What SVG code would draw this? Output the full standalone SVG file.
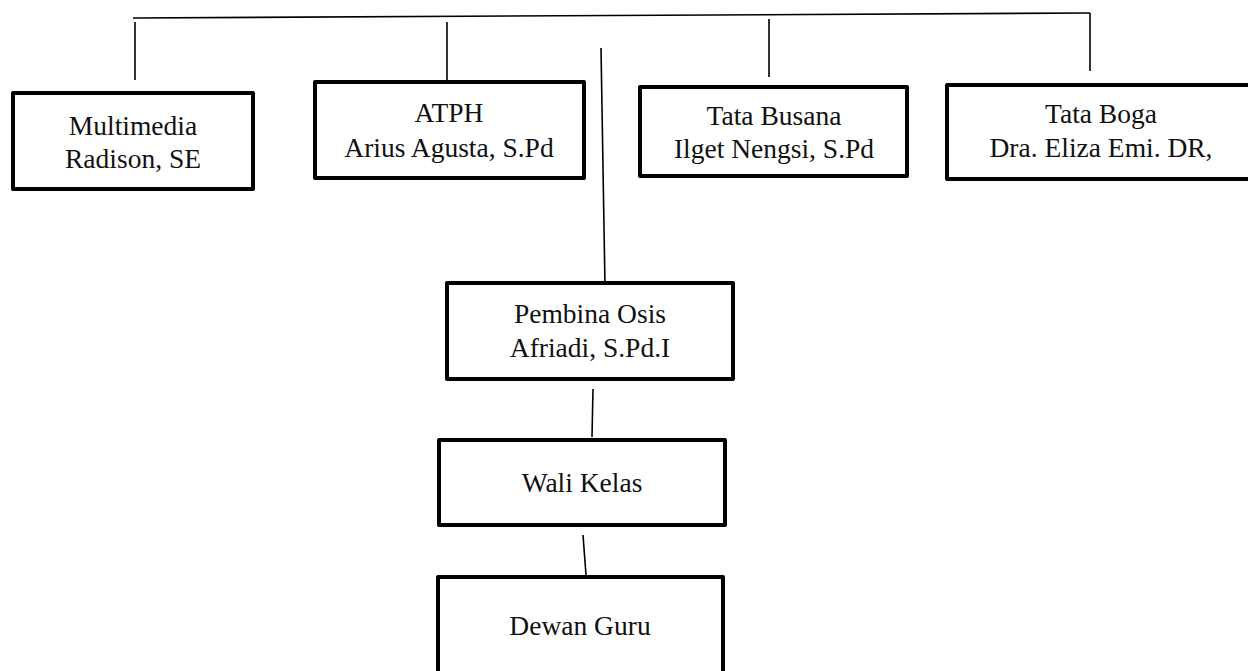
<svg xmlns="http://www.w3.org/2000/svg" width="1248" height="671" viewBox="0 0 1248 671">
<style>
.box{fill:#fff;stroke:#000;stroke-width:4;stroke-linejoin:round}
.ln{stroke:#000;stroke-width:1.6;fill:none}
text{font-family:"Liberation Serif","DejaVu Serif",serif;font-size:27.5px;fill:#111;text-anchor:middle}
</style>
<rect width="1248" height="671" fill="#fff"/>
<g id="connectors">
<line class="ln" x1="133" y1="18" x2="1090" y2="13"/>
<line class="ln" x1="135" y1="22" x2="135" y2="80"/>
<line class="ln" x1="447" y1="22" x2="447" y2="80"/>
<line class="ln" x1="769" y1="19" x2="769" y2="77"/>
<line class="ln" x1="1090" y1="13" x2="1090" y2="71"/>
<line class="ln" x1="601" y1="48" x2="605" y2="286"/>
<line class="ln" x1="593" y1="389" x2="592" y2="437"/>
<line class="ln" x1="583" y1="535" x2="586" y2="575"/>
</g>
<g id="multimedia">
<rect class="box" x="13" y="93" width="240" height="96"/>
<text x="133" y="135">Multimedia</text>
<text x="133" y="168">Radison, SE</text>
</g>
<g id="atph">
<rect class="box" x="315" y="82" width="269" height="96"/>
<text x="449" y="122">ATPH</text>
<text x="449" y="157">Arius Agusta, S.Pd</text>
</g>
<g id="tata-busana">
<rect class="box" x="640" y="87" width="267" height="89"/>
<text x="774" y="125">Tata Busana</text>
<text x="774" y="158">Ilget Nengsi, S.Pd</text>
</g>
<g id="tata-boga">
<rect class="box" x="947" y="85" width="310" height="94"/>
<text x="1101" y="123">Tata Boga</text>
<text x="1101" y="157">Dra. Eliza Emi. DR,</text>
</g>
<g id="pembina-osis">
<rect class="box" x="447" y="283" width="286" height="96"/>
<text x="590" y="323">Pembina Osis</text>
<text x="590" y="357">Afriadi, S.Pd.I</text>
</g>
<g id="wali-kelas">
<rect class="box" x="439" y="440" width="286" height="85"/>
<text x="582" y="492">Wali Kelas</text>
</g>
<g id="dewan-guru">
<rect class="box" x="438" y="577" width="285" height="110"/>
<text x="580" y="635">Dewan Guru</text>
</g>
</svg>
